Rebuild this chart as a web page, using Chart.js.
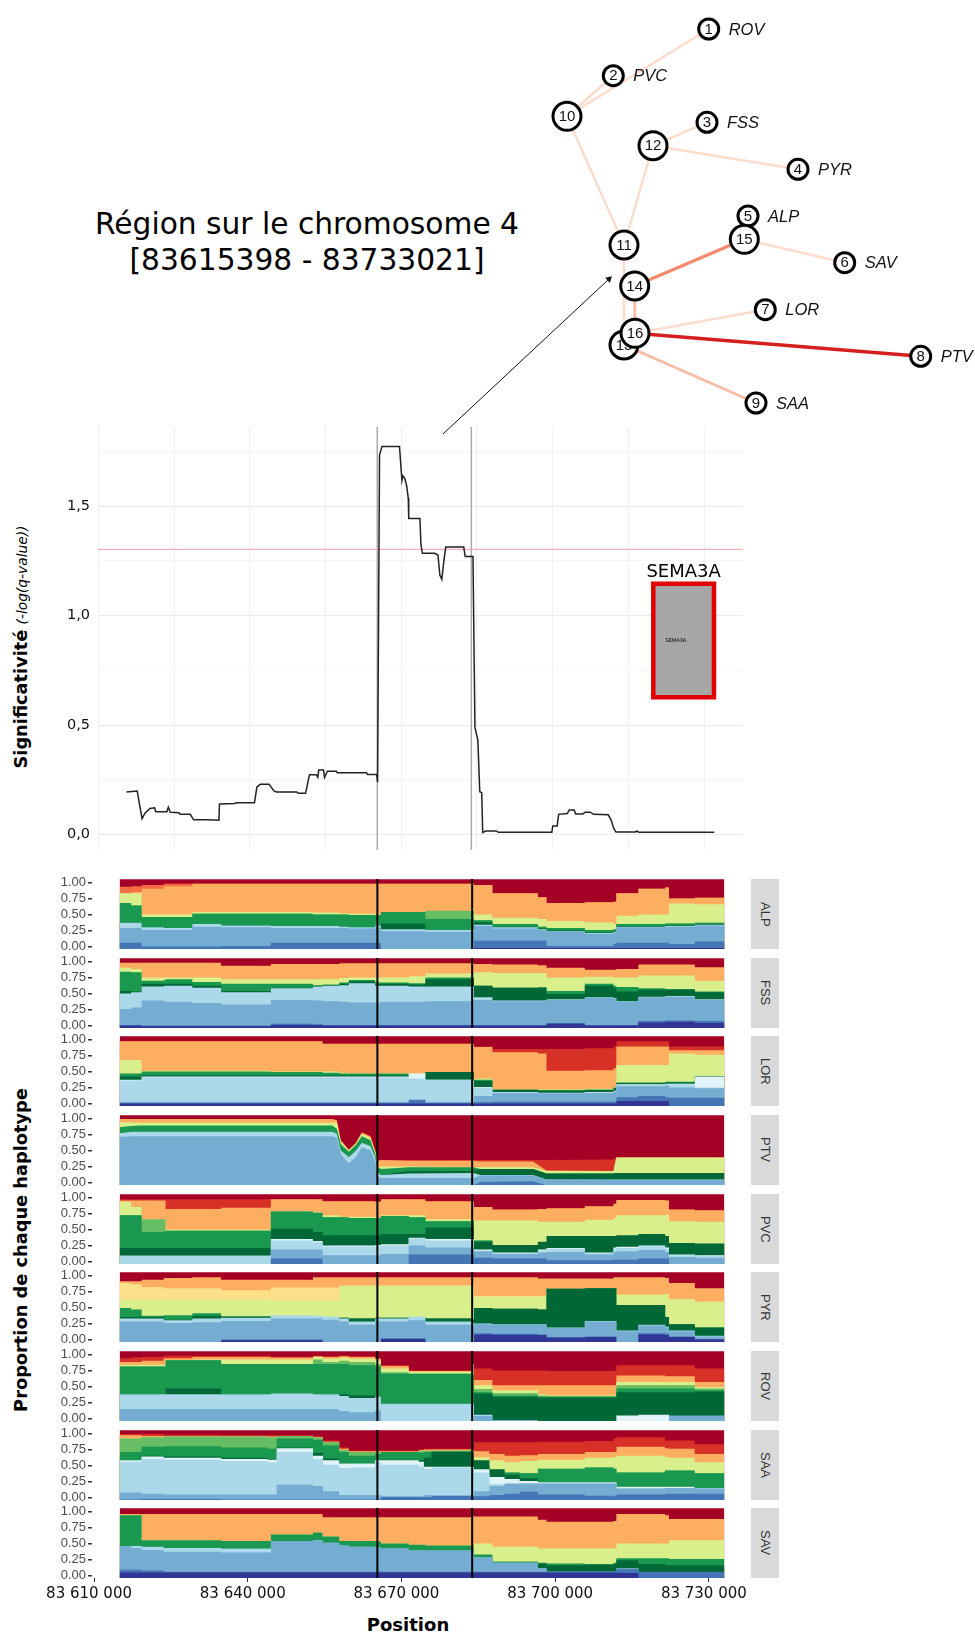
<!DOCTYPE html>
<html lang="fr">
<head>
<meta charset="utf-8">
<title>Région sur le chromosome 4</title>
<script src="https://cdn.jsdelivr.net/npm/chart.js@4"></script>
<style>
    html, body { margin: 0; padding: 0; background: #fff; }
    #page { position: relative; width: 975px; height: 1633px; overflow: hidden; }
    #page canvas { position: absolute; }
    .txt { position: absolute; font-family: "DejaVu Sans", sans-serif; white-space: nowrap; color: #000; }
    .vert { transform: translate(-50%, -50%) rotate(-90deg); }
    .strip { position: absolute; left: 751px; width: 28px; background: #d9d9d9; color: #333;
             font: 13px "Liberation Sans", sans-serif; writing-mode: vertical-rl;
             display: flex; align-items: center; justify-content: center; }
</style>
</head>
<body>
<div id="page">
    <div class="txt" style="left:307px;top:206px;transform:translateX(-50%);font-size:29.7px;line-height:36px;text-align:center">Région sur le chromosome 4<br>[83615398 - 83733021]</div>
    <div class="txt vert" style="left:20px;top:647px"><b style="font-size:17.8px">Significativité</b> <i style="font-size:13.8px">(-log(q-value))</i></div>
    <div class="txt vert" style="left:20px;top:1250px;font-size:17.8px;font-weight:bold">Proportion de chaque haplotype</div>
    <div class="txt" style="left:408px;top:1614px;transform:translateX(-50%);font-size:18px;font-weight:bold">Position</div>
</div>

<script>
// Tree : nodes, edges and population names
const nodeIds = [1, 2, 3, 4, 5, 6, 7, 8, 9, 10, 11, 12, 13, 14, 15, 16];
const nodeX = [708.7, 613.3, 707, 798, 748, 844.7, 765.3, 920.7, 756, 567, 624, 653, 624, 634.7, 744.3, 635];
const nodeY = [29, 75.7, 122.3, 169.3, 216, 262.7, 309.7, 356.3, 403, 116.3, 245, 145.7, 345, 286, 239.3, 333.3];
const leafNames = ['ROV', 'PVC', 'FSS', 'PYR', 'ALP', 'SAV', 'LOR', 'PTV', 'SAA'];
const edgeFrom = [10, 10, 10, 12, 12, 11, 11, 14, 14, 15, 15, 16, 16, 13];
const edgeTo = [1, 2, 11, 3, 4, 12, 13, 15, 16, 5, 6, 7, 8, 9];
const edgeLevel = [0, 0, 0, 0, 0, 0, 0, 2, 1, 0, 0, 0, 3, 1];

// Significance curve (position in kb, -log(q-value))
const sigPos = [83616.51, 83618.60, 83619.54, 83620.11, 83621.06, 83622.00, 83622.19, 83624.37, 83624.65, 83625.03,
    83626.74, 83626.93, 83628.91, 83629.58, 83632.42, 83634.50, 83634.60, 83637.62, 83637.81, 83641.41,
    83641.89, 83642.55, 83644.25, 83645.20, 83645.67, 83649.65, 83649.93, 83651.35, 83652.11, 83653.43,
    83653.72, 83653.91, 83654.85, 83655.04, 83655.61, 83657.32, 83657.50, 83663.19, 83663.38, 83665.17,
    83665.36, 83665.74, 83666.21, 83669.62, 83670.10, 83670.28, 83670.66, 83671.04, 83671.33, 83671.42,
    83673.60, 83673.79, 83674.07, 83676.44, 83677.10, 83677.48, 83677.86, 83678.24, 83678.62, 83682.12,
    83682.40, 83683.92, 83684.30, 83684.87, 83685.24, 83685.62, 83685.81, 83686.38, 83688.46, 83688.84,
    83699.26, 83699.44, 83700.30, 83700.58, 83702.28, 83702.66, 83703.61, 83703.89, 83705.31, 83705.69,
    83706.73, 83707.39, 83710.23, 83710.80, 83711.28, 83711.75, 83715.54, 83715.72, 83716.20, 83730.87];
const sigVal = [0.195, 0.199, 0.073, 0.098, 0.12, 0.123, 0.105, 0.105, 0.125, 0.102,
    0.10, 0.093, 0.093, 0.068, 0.068, 0.066, 0.14, 0.142, 0.146, 0.146,
    0.218, 0.23, 0.23, 0.2, 0.195, 0.195, 0.189, 0.189, 0.274, 0.274,
    0.262, 0.295, 0.295, 0.262, 0.29, 0.29, 0.283, 0.283, 0.275, 0.275,
    0.24, 1.733, 1.773, 1.773, 1.617, 1.638, 1.627, 1.59, 1.536, 1.444,
    1.444, 1.327, 1.285, 1.285, 1.277, 1.186, 1.166, 1.247, 1.314, 1.314,
    1.27, 1.27, 0.49, 0.432, 0.196, 0.192, 0.01, 0.017, 0.017, 0.011,
    0.011, 0.04, 0.04, 0.093, 0.097, 0.113, 0.113, 0.094, 0.094, 0.103,
    0.103, 0.093, 0.091, 0.067, 0.03, 0.012, 0.012, 0.017, 0.011, 0.011];
const sigYTicks = [0, 0.25, 0.5, 0.75, 1, 1.25, 1.5, 1.75];
const sigXGrid = [83610.97, 83625.76, 83640.54, 83655.23, 83669.92, 83684.7, 83699.3, 83714.08, 83728.87];
const threshold = 1.303;
const regionStart = 83665.3;
const regionEnd = 83683.8;
const geneStart = 83719.0;
const geneEnd = 83730.8;
const geneTop = 1.146;
const geneBottom = 0.628;

// Haplotype panels : top edge of each band, in percent, read against the tick labels
const haplotypes = [0, 1, 2, 3, 4, 5, 6, 7, 8, 9, 10, 11, 12, 13];
const xTicks = [83610, 83640, 83670, 83700, 83730];
const xTickLabels = ['83 610 000', '83 640 000', '83 670 000', '83 700 000', '83 730 000'];
const yTicks = [0, 25, 50, 75, 100];
const yTickLabels = ['0.00', '0.25', '0.50', '0.75', '1.00'];

const gridPos = [83615.00, 83617.24, 83619.29, 83623.59, 83623.96, 83629.19, 83634.80, 83644.51, 83652.73, 83654.60,
    83657.87, 83659.73, 83664.87, 83665.99, 83671.41, 83674.68, 83684.02, 83684.16, 83687.75, 83696.63,
    83698.31, 83705.78, 83711.38, 83711.94, 83716.24, 83721.47, 83722.22, 83727.26, 83733.05];
const ptvPos = [83615.00, 83617.24, 83619.29, 83656.46, 83657.40, 83658.15, 83659.73, 83661.13, 83662.25, 83663.94,
    83664.87, 83665.43, 83665.99, 83671.41, 83684.02, 83685.42, 83695.69, 83698.31, 83711.38, 83711.94, 83733.05];
const saaPos = [83615.00, 83619.26, 83623.60, 83634.81, 83643.87, 83645.64, 83652.73, 83654.69, 83657.84, 83659.71,
    83664.83, 83666.01, 83673.39, 83674.37, 83675.85, 83684.02, 83684.16, 83687.17, 83690.12, 83693.07,
    83696.62, 83705.77, 83711.38, 83711.97, 83721.42, 83722.21, 83727.23, 83733.03];

const ALP_bands = [13, 11, 10, 8, 7, 6, 5, 3, 2, 1, 0];
const ALP_tops = [
    [105,105,105,105,105,105,105,105,105,105,105,105,105,105,105,105,105,105,105,105,105,105,105,105,105,105,105,105,105],
    [93,94,96,98,98,98,98,98,98,98,98,98,98,98,98,98,98,96,83,77,68,69,70,83,90,92,75,76,76],
    [83,85,90,93,94,98,98,98,98,98,98,98,98,98,98,98,98,96,83,77,68,69,70,83,90,92,75,76,76],
    [83,83,50,50,50,54,54,54,53,53,52,51,50,53,53,55,60,50,45,43,40,38,35,48,50,50,67,66,67],
    [68,64,46,46,46,51,51,51,50,50,50,49,49,54,54,56,56,41,35,31,29,26,27,35,35,36,36,37,38],
    [68,64,46,46,46,51,51,51,50,50,50,49,49,54,54,43,43,41,35,31,29,26,27,35,35,36,36,37,38],
    [37,37,30,29,29,35,33,32,32,32,31,30,33,36,36,26,26,38,31,28,25,22,24,32,32,33,33,35,36],
    [37,37,30,29,29,35,33,32,32,32,31,30,33,27,27,26,26,34,30,27,24,21,23,31,31,32,32,34,35],
    [29,29,26,26,26,31,30,29,29,29,29,28,30,24,24,23,23,32,28,26,23,20,22,30,30,31,31,33,34],
    [6,6,0,0,0,0,1,6,6,6,6,6,6,-4,-4,-4,-4,9,9,9,1,1,4,6,6,6,4,8,9],
    [-4,-4,-4,-4,-4,-4,-4,-4,-4,-4,-4,-4,-4,-4,-4,-4,-4,-2,-2,-2,-2,-2,-2,-2,-2,-2,-2,-2,-2]
];

const FSS_bands = [13, 10, 8, 6, 5, 3, 2, 1, 0];
const FSS_tops = [
    [105,105,105,105,105,105,105,105,105,105,105,105,105,105,105,105,105,105,105,105,105,105,105,105,105,105,105,105,105],
    [98,98,98,98,98,98,93,96,96,96,97,97,97,97,97,97,97,96,95,94,90,87,87,88,95,95,95,91,84],
    [90,88,75,75,75,75,72,72,72,72,74,75,75,75,77,81,81,83,82,82,75,76,75,75,78,78,78,70,69],
    [84,83,70,71,72,68,65,65,63,64,67,71,67,67,66,75,75,62,59,60,54,65,62,60,58,57,57,53,52],
    [54,53,65,65,65,62,54,59,62,63,65,69,65,65,64,72,72,62,59,58,49,62,58,53,56,56,56,52,52],
    [50,52,61,62,62,59,52,58,61,62,63,66,62,62,61,61,61,44,39,39,41,44,43,38,45,46,46,41,41],
    [26,28,39,37,37,35,33,40,39,38,37,36,36,37,37,38,39,40,38,38,40,43,42,37,44,45,45,40,40],
    [1,1,0,0,0,0,0,3,2,1,1,1,1,1,1,1,1,1,1,1,4,1,1,1,7,8,8,7,1],
    [0,0,-1,-1,-1,-1,-1,1,1,0,0,0,0,0,0,0,0,0,0,0,3,0,0,0,5,6,6,4,0]
];

const LOR_bands = [13, 12, 10, 8, 6, 5, 4, 3, 2, 1, 0];
const LOR_tops = [
    [105,105,105,105,105,105,105,105,105,105,105,105,105,105,105,105,105,105,105,105,105,105,105,105,105,105,105,105,105],
    [97,97,97,97,97,97,97,97,97,93,93,93,93,93,93,93,93,89,85,85,85,86,89,97,97,97,89,89,89],
    [97,97,97,97,97,97,97,97,97,93,93,93,93,93,93,93,93,88,80,78,51,52,55,89,89,89,83,83,83],
    [68,68,51,51,51,51,51,50,50,50,48,47,47,47,47,49,49,39,21,22,22,23,26,60,60,60,78,76,76],
    [47,47,50,50,50,50,50,49,49,48,47,47,47,47,45,49,49,37,22,21,21,22,25,33,33,34,34,43,43],
    [42,42,44,44,44,44,44,44,44,44,44,44,44,44,44,49,48,35,21,20,20,21,24,32,32,33,33,43,43],
    [37,37,42,42,42,42,42,42,42,42,42,42,42,42,47,37,35,26,18,17,17,18,20,30,30,31,31,42,42],
    [36,36,41,41,41,41,41,41,41,41,41,41,41,41,39,37,34,25,17,16,16,17,19,29,29,30,30,25,25],
    [3,3,3,3,3,3,3,3,3,3,3,3,3,3,3,3,3,12,17,16,16,17,19,27,27,28,25,24,24],
    [1,1,1,1,1,1,1,1,1,1,1,1,1,1,6,1,1,2,3,3,3,3,3,10,12,10,9,9,9],
    [0,0,0,0,0,0,0,0,0,0,0,0,0,0,0,0,0,0,0,0,0,0,0,4,4,4,-4,-4,-4]
];

const PTV_bands = [13, 12, 10, 8, 6, 5, 3, 2, 1];
const PTV_tops = [
    [105,105,105,105,105,105,105,105,105,105,105,105,105,105,105,105,105,105,105,105,105],
    [99,99,99,99,97,66,51,62,78,72,50,34,35,35,35,35,35,35,36,39,39],
    [99,99,99,99,97,66,51,62,78,72,50,34,35,34,34,33,33,19,18,39,39],
    [94,94,93,93,93,64,50,61,76,70,48,25,25,25,24,24,24,18,18,39,39],
    [86,88,89,89,84,60,48,59,72,66,45,24,21,24,24,21,21,14,14,15,15],
    [77,79,79,79,76,50,40,50,62,57,40,16,12,18,18,21,21,14,14,15,15],
    [77,79,79,79,76,50,40,50,62,57,40,16,12,14,15,12,12,5,5,5,5],
    [71,72,72,72,70,44,30,40,55,50,34,8,7,7,7,11,11,5,4,4,4],
    [-4,-4,-4,-4,-4,-4,-4,-4,-4,-4,-4,-4,-4,-4,-4,1,2,-4,-4,-4,-4]
];

const PVC_bands = [13, 12, 10, 8, 7, 6, 5, 4, 3, 2, 1];
const PVC_tops = [
    [105,105,105,105,105,105,105,105,105,105,105,105,105,105,105,105,105,105,105,105,105,105,105,105,105,105,105,105,105],
    [97,97,97,97,97,97,97,97,97,94,94,94,93,97,97,94,93,85,81,82,83,86,90,96,96,95,81,80,80],
    [95,95,95,95,82,82,84,97,97,94,94,94,93,97,97,94,93,85,81,82,83,86,90,96,96,95,81,80,80],
    [93,85,66,66,50,50,50,78,77,72,70,70,68,72,72,66,66,64,64,62,62,65,68,72,72,73,63,62,60],
    [72,72,66,66,48,48,48,78,76,69,69,68,68,71,69,63,64,33,24,30,29,29,32,33,33,33,28,26,26],
    [72,72,46,47,48,48,48,78,76,69,69,68,68,71,69,63,64,33,24,30,29,29,32,33,33,33,28,26,26],
    [21,21,21,21,21,21,21,51,46,41,41,41,41,43,43,53,54,31,26,31,40,40,40,41,43,40,29,28,27],
    [9,9,9,9,9,9,9,35,32,25,25,25,26,27,37,35,35,19,14,19,21,14,22,23,25,22,11,10,9],
    [9,9,9,9,9,9,9,33,30,23,23,23,24,25,36,33,33,17,13,17,20,13,20,21,24,20,10,9,8],
    [-4,-4,-4,-4,-4,-4,-4,19,19,10,10,10,10,12,25,22,21,16,12,14,15,11,15,16,18,15,7,6,6],
    [-4,-4,-4,-4,-4,-4,-4,5,5,-4,-4,-4,-4,-4,11,11,11,6,5,5,2,2,3,3,5,5,-4,-4,-4]
];

const PYR_bands = [13, 10, 9, 8, 6, 5, 3, 2, 1, 0];
const PYR_tops = [
    [105,105,105,105,105,105,105,105,105,105,105,105,105,105,105,105,105,105,105,105,105,105,105,105,105,105,105,105,105],
    [91,91,93,96,96,97,93,93,97,97,97,97,97,97,97,97,97,97,97,95,95,95,97,97,97,96,88,80,80],
    [88,86,82,80,80,80,77,81,81,81,84,84,84,84,84,84,83,67,67,67,74,75,76,70,70,71,63,59,57],
    [62,62,62,62,62,62,62,60,60,60,84,84,84,84,84,84,83,67,67,67,74,75,76,70,70,71,63,59,57],
    [49,47,37,38,38,41,36,35,35,35,34,33,34,34,34,33,31,49,48,47,79,80,80,54,54,35,24,19,17],
    [35,35,35,31,31,37,36,35,35,35,34,33,34,34,34,33,31,49,48,47,79,80,80,54,54,35,24,19,17],
    [33,33,33,30,30,33,34,38,37,36,33,28,33,33,36,28,26,25,24,24,19,29,29,14,23,20,14,6,6],
    [28,28,28,26,26,27,29,33,33,31,28,23,28,28,30,23,21,24,23,23,18,28,28,13,22,19,13,5,5],
    [-4,-4,-4,-4,-4,-4,0,0,0,-4,-4,-4,-4,2,2,-4,-4,10,9,8,4,5,5,-4,10,9,5,1,-4],
    [-4,-4,-4,-4,-4,-4,-1,-1,-1,-4,-4,-4,-4,1,1,-4,-4,8,7,7,3,4,4,-4,8,7,4,0,-4]
];

const ROV_bands = [13, 12, 10, 8, 7, 6, 5, 4, 3, 2];
const ROV_tops = [
    [105,105,105,105,105,105,105,105,105,105,105,105,105,105,105,105,105,105,105,105,105,105,105,105,105,105,105,105,105],
    [94,95,96,98,98,98,98,96,98,97,98,97,94,83,75,75,85,78,75,75,74,74,74,83,83,83,83,78,78],
    [88,88,90,94,94,96,96,95,97,96,97,96,93,82,74,74,85,60,52,52,52,52,52,67,67,66,66,57,57],
    [84,84,84,84,91,92,92,92,96,93,95,93,90,78,73,73,70,52,44,38,36,36,36,57,57,57,57,49,49],
    [81,81,81,81,91,91,85,85,92,88,90,88,85,72,70,70,69,46,40,36,35,35,35,52,52,52,52,47,47],
    [81,81,81,81,91,91,85,85,85,85,85,83,81,70,70,70,69,41,36,34,34,34,34,47,47,47,47,44,44],
    [38,38,38,38,47,47,38,38,38,38,38,36,34,23,23,23,24,39,34,33,33,33,33,41,41,41,41,42,42],
    [-4,-4,-4,-4,-4,-4,-4,-4,-4,-4,-4,-4,-4,-4,-4,-4,-4,-4,-4,-4,-4,-4,-4,5,6,6,-4,-4,-4],
    [38,38,38,38,38,38,38,39,38,38,35,32,34,23,23,23,24,6,-4,-4,-4,-4,-4,-4,-4,-4,-4,-4,-4],
    [15,15,15,15,15,15,15,15,15,15,12,10,13,-4,-4,-4,-4,4,-2,-4,-4,-4,-4,-4,-4,-4,5,5,5]
];

const SAA_bands = [13, 12, 10, 8, 7, 6, 5, 4, 3, 2, 1];
const SAA_tops = [
    [105,105,105,105,105,105,105,105,105,105,105,105,105,105,105,105,105,105,105,105,105,105,105,105,105,105,105,105],
    [99,99,98,97,97,97,95,89,78,73,73,73,75,76,76,73,86,86,86,86,87,88,92,94,89,89,83,83],
    [97,96,95,95,95,96,94,87,76,72,72,72,74,75,75,72,72,68,65,66,68,71,71,79,77,76,68,67],
    [92,94,95,95,94,96,93,86,74,71,71,71,73,73,73,71,63,58,55,57,59,62,63,65,63,62,55,54],
    [92,94,95,95,94,96,93,86,74,71,71,71,73,73,73,71,50,42,39,38,45,47,45,39,42,42,38,38],
    [71,79,80,78,76,92,90,81,71,65,68,71,70,71,72,70,50,42,39,38,45,47,45,39,42,42,38,38],
    [58,65,64,62,60,78,70,61,54,53,59,59,58,62,71,68,58,44,36,30,24,24,24,17,17,17,15,15],
    [58,64,62,60,59,77,65,58,53,53,58,58,56,48,48,48,44,32,29,26,24,24,24,17,17,17,15,15],
    [56,60,59,57,55,71,60,51,46,47,55,51,48,45,47,47,39,21,20,22,22,22,22,14,14,15,15,14],
    [8,6,5,5,5,20,18,10,4,4,4,2,2,4,3,3,10,18,22,22,22,22,22,14,15,15,14,14],
    [-3,-2,-2,-3,-3,-3,-3,-3,-3,-3,-3,1,1,1,3,3,2,4,6,9,5,3,2,5,6,6,6,6]
];

const SAV_bands = [13, 10, 8, 6, 5, 3, 2, 1, 0];
const SAV_tops = [
    [105,105,105,105,105,105,105,105,105,105,105,105,105,105,105,105,105,105,105,105,105,105,105,105,105,105,105,105,105],
    [96,96,96,96,96,96,96,96,96,91,91,91,91,91,91,91,93,92,92,87,84,84,85,96,96,94,88,88,88],
    [94,94,55,55,55,55,54,64,67,61,54,54,53,50,48,47,42,50,45,42,42,42,42,50,50,50,55,55,55],
    [94,94,55,55,55,55,54,64,67,61,54,54,53,50,48,47,42,33,22,20,19,18,20,27,27,27,26,26,26],
    [46,46,45,43,43,43,42,54,55,51,47,45,44,42,39,39,39,29,20,19,16,17,18,24,18,16,16,16,16],
    [46,46,45,43,43,43,42,54,55,51,47,45,44,42,39,39,39,29,20,12,6,6,6,11,0,-2,-2,-2,-2],
    [46,43,40,37,37,37,36,54,55,51,47,45,44,42,39,39,39,29,20,12,6,6,6,11,0,-2,-2,-2,-2],
    [9,9,8,6,6,6,6,6,6,6,6,6,6,6,6,6,6,6,6,6,6,6,6,10,6,6,6,6,6],
    [5,5,5,5,5,5,5,5,5,5,5,5,5,5,5,5,5,5,5,5,5,5,5,4,-4,-4,-4,-4,-4]
];

const panelNames = ['ALP', 'FSS', 'LOR', 'PTV', 'PVC', 'PYR', 'ROV', 'SAA', 'SAV'];
const panelPos = [gridPos, gridPos, gridPos, ptvPos, gridPos, gridPos, gridPos, saaPos, gridPos];
const panelBands = [ALP_bands, FSS_bands, LOR_bands, PTV_bands, PVC_bands, PYR_bands, ROV_bands, SAA_bands, SAV_bands];
const panelTops = [ALP_tops, FSS_tops, LOR_tops, PTV_tops, PVC_tops, PYR_tops, ROV_tops, SAA_tops, SAV_tops];

// Styles
const hapColors = ['#313695', '#4575b4', '#74add1', '#abd9e9', '#e0f3f8', '#006837', '#1a9850', '#66bd63',
    '#d9ef8b', '#fee08b', '#fdae61', '#f46d43', '#d73027', '#a50026'];
const edgeColors = ['#fcdccd', '#f9bca6', '#f58a6c', '#d5201f'];
const edgeWidths = [2.5, 3, 3.2, 3.6];
const page = document.getElementById('page');

function addCanvas(left, top, w, h) {
    const c = document.createElement('canvas');
    c.width = w;
    c.height = h;
    c.style.left = left + 'px';
    c.style.top = top + 'px';
    page.appendChild(c);
    return c.getContext('2d');
}

const baseOptions = {
    responsive: false,
    animation: false,
    devicePixelRatio: 1,
    plugins: { legend: { display: false }, tooltip: { enabled: false } }
};

// Significance chart
const geneLabels = {
    id: 'geneLabels',
    afterDatasetsDraw(chart) {
        const { ctx, scales } = chart;
        ctx.save();
        ctx.fillStyle = '#000';
        ctx.textAlign = 'center';
        ctx.textBaseline = 'middle';
        ctx.font = '18px "DejaVu Sans"';
        ctx.fillText('SEMA3A', scales.x.getPixelForValue((geneStart + geneEnd) / 2), scales.y.getPixelForValue(1.2));
        ctx.font = '5px "DejaVu Sans"';
        ctx.fillText('SEMA3A', scales.x.getPixelForValue(83723.4), scales.y.getPixelForValue(0.885));
        ctx.restore();
    }
};

new Chart(addCanvas(-1, 420, 760, 440), {
    type: 'line',
    data: {
        datasets: [
            {
                data: sigPos.map((x, i) => ({ x, y: sigVal[i] })),
                borderColor: '#222', borderWidth: 1.5, pointRadius: 0, order: 1
            },
            {
                data: [{ x: sigXGrid[0], y: threshold }, { x: 83736.4, y: threshold }],
                borderColor: '#e8a0a0', borderWidth: 1, pointRadius: 0, order: 2
            },
            {
                data: [{ x: regionStart, y: -0.07 }, { x: regionStart, y: 1.862 }],
                borderColor: '#aaa', borderWidth: 1.5, pointRadius: 0, order: 3
            },
            {
                data: [{ x: regionEnd - 0.2, y: -0.07 }, { x: regionEnd - 0.2, y: 1.862 }],
                borderColor: '#aaa', borderWidth: 1.5, pointRadius: 0, order: 3
            },
            {
                data: [{ x: geneStart, y: geneTop }, { x: geneEnd, y: geneTop }, { x: geneEnd, y: geneBottom },
                    { x: geneStart, y: geneBottom }, { x: geneStart, y: geneTop }],
                borderColor: '#e30000', borderWidth: 4.5, backgroundColor: '#a6a6a6', fill: 'shape',
                pointRadius: 0, borderJoinStyle: 'miter', borderCapStyle: 'square', order: 4
            }
        ]
    },
    options: {
        ...baseOptions,
        layout: { autoPadding: false, padding: { top: 7, bottom: 10, right: 16 } },
        scales: {
            x: {
                type: 'linear', min: 83610.97, max: 83736.45,
                afterBuildTicks: a => { a.ticks = sigXGrid.map(value => ({ value })); },
                afterFit: a => { a.height = 0; a.paddingLeft = 0; a.paddingRight = 0; },
                ticks: { display: false },
                grid: { color: '#f0f0f0', drawTicks: false },
                border: { display: false }
            },
            y: {
                min: -0.0699, max: 1.8616,
                afterBuildTicks: a => { a.ticks = sigYTicks.map(value => ({ value })); },
                afterFit: a => { a.width = 99; a.paddingTop = 0; a.paddingBottom = 0; },
                ticks: {
                    color: '#111', padding: 8, autoSkip: false, font: { family: 'DejaVu Sans', size: 14.5 },
                    callback: v => (v * 10) % 5 === 0 ? v.toFixed(1).replace('.', ',') : ''
                },
                grid: { drawTicks: false, color: c => (c.tick.value * 10) % 5 === 0 ? '#ebebeb' : '#f5f5f5' },
                border: { display: false }
            }
        }
    },
    plugins: [geneLabels]
});

// Haplotype panels
panelNames.forEach((name, p) => {
    const fillTop = Math.round(879 + 78.65 * p);
    const last = p === panelNames.length - 1;
    const datasets = panelBands[p].map((band, i) => ({
        data: panelPos[p].map((x, j) => ({ x, y: panelTops[p][i][j] })),
        backgroundColor: hapColors[haplotypes[band]],
        fill: 'start',
        stepped: name === 'PTV' ? false : 'before',
        borderWidth: 0,
        pointRadius: 0,
        order: panelBands[p].length - i
    }));
    [regionStart, regionEnd].forEach(x => datasets.push({
        data: [{ x, y: -3.7 }, { x, y: 105.2 }],
        borderColor: '#000', borderWidth: 2, pointRadius: 0, order: -1
    }));

    new Chart(addCanvas(-2, fillTop - 8, 760, last ? 112 : 86), {
        type: 'line',
        data: { datasets },
        options: {
            ...baseOptions,
            layout: { autoPadding: false, padding: { top: 8, bottom: last ? 0 : 8, right: 33.5 } },
            scales: {
                x: {
                    type: 'linear', min: 83609.6, max: 83733.05, display: last,
                    afterBuildTicks: a => { a.ticks = xTicks.map(value => ({ value })); },
                    afterFit: a => { a.height = last ? 34 : 0; a.paddingLeft = 0; a.paddingRight = 0; },
                    ticks: {
                        color: '#111', padding: 3, maxRotation: 0, autoSkip: false, labelOffset: -5,
                        font: { family: 'DejaVu Sans', size: 15 },
                        callback: (v, i) => xTickLabels[i]
                    },
                    grid: { drawOnChartArea: false, tickLength: 4, color: '#333' },
                    border: { display: false }
                },
                y: {
                    min: -3.7, max: 105.2,
                    afterBuildTicks: a => { a.ticks = yTicks.map(value => ({ value })); },
                    afterFit: a => { a.width = 94; a.paddingTop = 0; a.paddingBottom = 0; },
                    ticks: {
                        color: '#4d4d4d', padding: 2, autoSkip: false, font: { family: 'Liberation Sans', size: 13 },
                        callback: (v, i) => yTickLabels[i]
                    },
                    grid: { drawOnChartArea: false, tickLength: 4, color: '#333', lineWidth: 1.5 },
                    border: { display: false }
                }
            }
        }
    });

    const strip = document.createElement('div');
    strip.className = 'strip';
    strip.style.top = fillTop + 'px';
    strip.style.height = '70px';
    strip.textContent = name;
    page.appendChild(strip);
});

// Tree, with its own 1:1 scales over the top of the page
const treeLabels = {
    id: 'treeLabels',
    afterDatasetDraw(chart, args) {
        const n = chart.data.datasets[args.index].nodeIndex;
        if (n === undefined) return;
        const { ctx, scales } = chart;
        const x = scales.x.getPixelForValue(nodeX[n]);
        const y = scales.y.getPixelForValue(nodeY[n]);
        ctx.save();
        ctx.fillStyle = '#111';
        ctx.textBaseline = 'middle';
        ctx.textAlign = 'center';
        ctx.font = '15px "Liberation Sans"';
        ctx.fillText(nodeIds[n], x, y + 0.5);
        if (leafNames[n]) {
            ctx.textAlign = 'left';
            ctx.font = 'italic 16.5px "Liberation Sans"';
            ctx.fillText(leafNames[n], x + 20, y + 1);
        }
        ctx.restore();
    }
};

const treeEdges = edgeFrom.map((from, i) => ({
    data: [from, edgeTo[i]].map(id => ({ x: nodeX[id - 1], y: nodeY[id - 1] })),
    borderColor: edgeColors[edgeLevel[i]],
    borderWidth: edgeWidths[edgeLevel[i]],
    pointRadius: 0,
    order: 100 - edgeLevel[i]
}));
const treeNodes = nodeIds.map((id, n) => ({
    nodeIndex: n,
    data: [{ x: nodeX[n], y: nodeY[n] }],
    pointRadius: id > 9 ? 14 : 10,
    pointBorderWidth: 3,
    pointBorderColor: '#000',
    pointBackgroundColor: '#fff',
    showLine: false,
    order: 50 - id
}));
const arrow = {
    data: [{ x: 443, y: 434 }, { x: 609, y: 279 }],
    borderColor: '#111',
    borderWidth: 1,
    pointRadius: [0, 4],
    pointStyle: 'triangle',
    pointRotation: 47,
    pointBackgroundColor: '#111',
    pointBorderWidth: 0,
    order: 60
};

const treeCtx = addCanvas(0, 0, 975, 440);
treeCtx.canvas.style.zIndex = 5;
new Chart(treeCtx, {
    type: 'line',
    data: { datasets: [...treeEdges, arrow, ...treeNodes] },
    options: {
        ...baseOptions,
        layout: { autoPadding: false, padding: 0 },
        scales: {
            x: { type: 'linear', min: 0, max: 975, display: false },
            y: { type: 'linear', min: 0, max: 440, reverse: true, display: false }
        }
    },
    plugins: [treeLabels]
});
</script>
</body>
</html>
